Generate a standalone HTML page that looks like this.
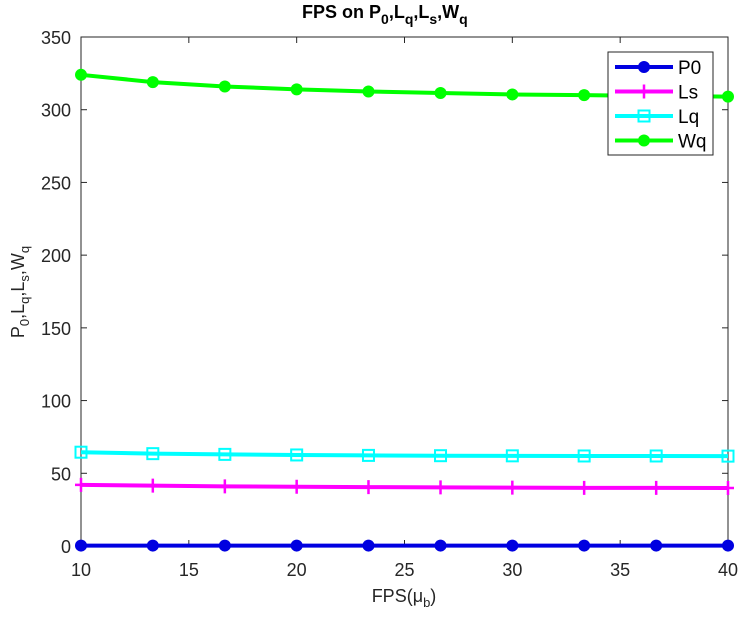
<!DOCTYPE html>
<html><head><meta charset="utf-8"><style>
body{margin:0;background:#fff;}
svg text{font-family:"Liberation Sans",sans-serif;}
</style></head><body>
<svg id="chart" width="739" height="617" viewBox="0 0 739 617" xmlns="http://www.w3.org/2000/svg">
<rect x="0" y="0" width="739" height="617" fill="#fff"/>
<text x="302" y="18" text-anchor="start" font-size="18" font-weight="bold" fill="#000">FPS on P<tspan font-size="14" dy="6">0</tspan><tspan dy="-6">,L</tspan><tspan font-size="14" dy="6">q</tspan><tspan dy="-6">,L</tspan><tspan font-size="14" dy="6">s</tspan><tspan dy="-6">,W</tspan><tspan font-size="14" dy="6">q</tspan></text>
<g id="axes"></g>
<g id="series"></g>
<g id="legend"></g>
<text x="404" y="602" text-anchor="middle" font-size="18" fill="#262626">FPS(μ<tspan font-size="13" dy="5">b</tspan><tspan dy="-5">)</tspan></text>
<text transform="translate(24,292) rotate(-90)" text-anchor="middle" font-size="18" fill="#262626">P<tspan font-size="13" dy="5">0</tspan><tspan dy="-5">,L</tspan><tspan font-size="13" dy="5">q</tspan><tspan dy="-5">,L</tspan><tspan font-size="13" dy="5">s</tspan><tspan dy="-5">,W</tspan><tspan font-size="13" dy="5">q</tspan></text>
</svg>
<script>
const xValues=[10,13.33,16.67,20,23.33,26.67,30,33.33,36.67,40];
const p0Values=[0.3,0.3,0.3,0.3,0.3,0.3,0.3,0.3,0.3,0.3];
const lsValues=[42,41.5,41,40.7,40.5,40.3,40.1,40,40,39.9];
const lqValues=[64.5,63.5,63,62.6,62.3,62.1,62,61.9,61.9,61.8];
const wqValues=[324,319,316,314,312.5,311.5,310.5,310,309.5,309];
const xTicks=[10,15,20,25,30,35,40];
const yTicks=[0,50,100,150,200,250,300,350];
const L=81,R=728,T=37,B=546;
const NS="http://www.w3.org/2000/svg";
const sx=v=>L+(v-10)/30*(R-L);
const sy=v=>B-v/350*(B-T);
function mk(tag,attrs,parent){const e=document.createElementNS(NS,tag);for(const k in attrs)e.setAttribute(k,attrs[k]);parent.appendChild(e);return e;}
const axes=document.getElementById('axes');
let box=mk('rect',{x:L,y:T,width:R-L,height:B-T,fill:'none',stroke:'#262626','stroke-width':1},axes);


xTicks.forEach(t=>{
 const x=sx(t);
 mk('line',{x1:x,x2:x,y1:B,y2:B-6,stroke:'#262626'},axes);
 mk('line',{x1:x,x2:x,y1:T,y2:T+6,stroke:'#262626'},axes);
 const tx=mk('text',{x:x,y:B+30,'text-anchor':'middle','font-size':18,fill:'#262626'},axes);
 tx.textContent=t;
 
 
});
yTicks.forEach(t=>{
 const y=sy(t);
 mk('line',{x1:L,x2:L+6,y1:y,y2:y,stroke:'#262626'},axes);
 mk('line',{x1:R,x2:R-6,y1:y,y2:y,stroke:'#262626'},axes);
 const tx=mk('text',{x:L-10,y:y+7,'text-anchor':'end','font-size':18,fill:'#262626'},axes);
 tx.textContent=t;
 
 
});
function marker(g,type,x,y,color){
 if(type==='circle')mk('circle',{cx:x,cy:y,r:6,fill:color},g);
 else if(type==='plus'){mk('path',{d:`M${x-6},${y}H${x+6}M${x},${y-7}V${y+7}`,stroke:color,'stroke-width':2.5},g);}
 else mk('rect',{x:x-5.5,y:y-5.5,width:11,height:11,fill:'none',stroke:color,'stroke-width':2},g);
}
const defs=[
 {name:'P0',vals:p0Values,color:'#0000e0',m:'circle'},
 {name:'Ls',vals:lsValues,color:'#ff00ff',m:'plus'},
 {name:'Lq',vals:lqValues,color:'#00ffff',m:'square'},
 {name:'Wq',vals:wqValues,color:'#00ff00',m:'circle'}];
const sg=document.getElementById('series');
defs.forEach(d=>{
 const g=mk('g',{},sg);
 
 
 mk('polyline',{points:xValues.map((x,i)=>sx(x)+','+sy(d.vals[i])).join(' '),fill:'none',stroke:d.color,'stroke-width':4},g);
 xValues.forEach((x,i)=>marker(g,d.m,sx(x),sy(d.vals[i]),d.color));
});
const lg=document.getElementById('legend');
const lb=mk('rect',{x:608,y:52,width:105,height:103,fill:'#fff',stroke:'#262626'},lg);


defs.forEach((d,i)=>{
 const y=67+i*24.5;
 const g=mk('g',{},lg);
 
 
 mk('line',{x1:615,x2:673,y1:y,y2:y,stroke:d.color,'stroke-width':4},g);
 marker(g,d.m,644,y,d.color);
 const t=mk('text',{x:678,y:y+7,'font-size':19,fill:'#000'},g);
 t.textContent=d.name;
});
</script>
</body></html>
